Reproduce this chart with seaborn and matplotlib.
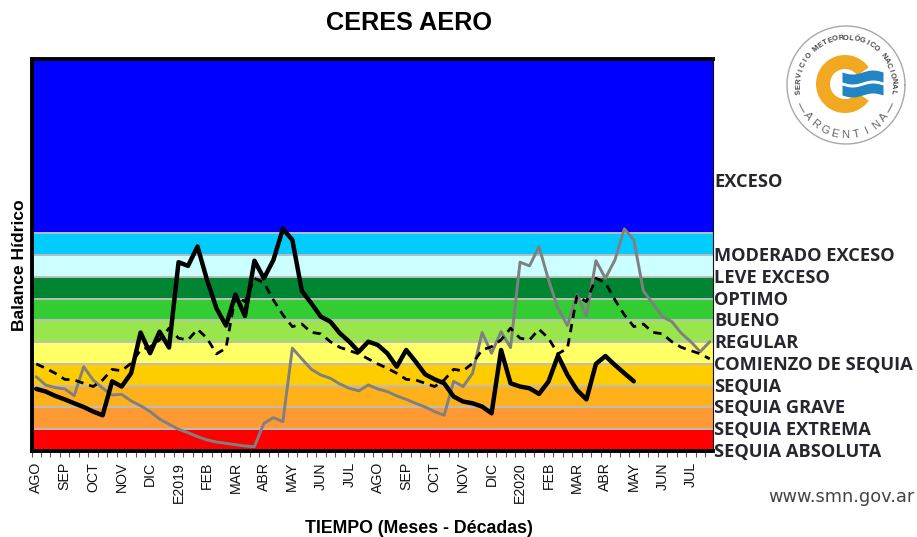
import numpy as np
import pandas as pd
import matplotlib
matplotlib.use("Agg")
import matplotlib.pyplot as plt
import matplotlib.patches as mpatches
import seaborn as sns

sns.set_style("white")
plt.rcParams["font.family"] = ["Liberation Sans", "DejaVu Sans"]
plt.rcParams["text.color"] = "black"

# categorias de los meses (3 decadas por mes)
months = ["AGO", "SEP", "OCT", "NOV", "DIC", "E2019", "FEB", "MAR", "ABR", "MAY", "JUN", "JUL",
          "AGO", "SEP", "OCT", "NOV", "DIC", "E2020", "FEB", "MAR", "ABR", "MAY", "JUN", "JUL"]

# bandas del balance hidrico
band_edges = [0, 1, 2, 3, 4, 5, 6, 7, 8, 9, 10, 18]
band_colors = ["#FF0000", "#FF9933", "#FFB11B", "#FFCC00", "#FFFF66", "#99E64C",
               "#33CC33", "#008533", "#CCFFFF", "#00CCFF", "#0000FF"]
band_names = ["SEQUIA ABSOLUTA", "SEQUIA EXTREMA", "SEQUIA GRAVE", "SEQUIA", "COMIENZO DE SEQUIA",
              "REGULAR", "BUENO", "OPTIMO", "LEVE EXCESO", "MODERADO EXCESO", "EXCESO"]
band_name_y = [0, 1, 2, 3, 4, 5, 6, 7, 8, 9, 12.4]

# series
campania_2017 = [3.41, 3.03, 2.91, 2.85, 2.54, 3.87, 3.26, 2.88, 2.57, 2.60, 2.30, 2.08,
                 1.81, 1.47, 1.23, 1.00, 0.84, 0.66, 0.51, 0.41, 0.35, 0.29, 0.23, 0.20,
                 1.27, 1.53, 1.35, 4.72, 4.23, 3.75, 3.49, 3.34, 3.08, 2.88, 2.76, 3.03]
campania_2018 = [2.85, 2.73, 2.53, 2.37, 2.19, 2.02, 1.81, 1.64, 3.20, 2.96, 3.57, 5.44,
                 4.49, 5.48, 4.75, 8.67, 8.50, 9.39, 7.86, 6.55, 5.76, 7.18, 6.20, 8.74,
                 7.93, 8.77, 10.20, 9.69, 7.35, 6.78, 6.17, 5.94, 5.41, 5.02, 4.56, 5.02]
campania_2019 = [4.87, 4.49, 3.87, 4.64, 4.10, 3.52, 3.29, 3.11, 2.50, 2.27, 2.19, 2.04,
                 1.73, 4.64, 3.11, 2.96, 2.88, 2.62, 3.19, 4.38, 3.49, 2.80, 2.37, 4.00,
                 4.36, 3.95, 3.57, 3.20]
normal = [4.00, 3.80, 3.57, 3.29, 3.26, 3.11, 2.96, 3.26, 3.75, 3.68, 4.03, 4.64,
          4.79, 5.10, 5.64, 5.18, 5.10, 5.59, 5.18, 4.46, 4.72, 7.12, 6.86, 7.93,
          7.73, 6.94, 6.25, 5.71, 5.83, 5.45, 5.38, 5.02, 4.76, 4.61, 4.46, 4.23]

anterior = campania_2017 + campania_2018
actual = campania_2018 + campania_2019
media = normal + normal

W, H = 917, 537
fig = plt.figure(figsize=(W / 100, H / 100), dpi=100)
ax = fig.add_axes([31.5 / W, 1 - 451 / H, (712.6 - 31.5) / W, (451 - 59) / H])

for i in range(len(band_colors)):
    ax.axhspan(band_edges[i], band_edges[i + 1], color=band_colors[i], lw=0, zorder=0)
for e in band_edges[1:-1]:
    ax.axhline(e, color="#BDBDBD", lw=1.4, zorder=1)

sns.lineplot(x=range(len(anterior)), y=anterior, color="#808080", lw=2.1, ax=ax, zorder=3)
sns.lineplot(x=range(len(media)), y=media, color="black", lw=2, ax=ax, zorder=4, linestyle=(0, (3, 2.2)))
sns.lineplot(x=range(len(actual)), y=actual, color="black", lw=3.2, ax=ax, zorder=5)

ax.set_xlim(-0.5, 71.3)
ax.set_ylim(0, 18)
ax.set_yticks([])
ax.set_xticks(np.arange(0, 72, 3))
ax.set_xticklabels(months, rotation=90, fontsize=10.2, color="#111111")
ax.set_xticks(np.arange(-0.5, 71.5, 1), minor=True)
ax.tick_params(axis="x", which="major", length=0, pad=8)
ax.tick_params(axis="x", which="minor", length=4, width=0.8, color="#555555", bottom=True)
for s in ["left", "bottom", "top"]:
    ax.spines[s].set_linewidth(2.8)
    ax.spines[s].set_color("black")
ax.spines["right"].set_linewidth(0.8)
ax.spines["right"].set_color("#111111")

for name, y in zip(band_names, band_name_y):
    ax.annotate(name, xy=(1, y), xycoords=("axes fraction", "data"), xytext=(1, -0.7),
                textcoords="offset points", va="center", ha="left", fontsize=13.15,
                fontweight="bold", color="#26262E", family="Open Sans", annotation_clip=False)

fig.text(408.5 / W, 1 - 23 / H, "CERES AERO", ha="center", va="center", fontsize=18.2, fontweight="bold")
fig.text(20 / W, 1 - 265.5 / H, "Balance Hídrico", rotation=90, ha="center", va="center",
         fontsize=12.6, fontweight="bold")
fig.text(419 / W, 1 - 528.5 / H, "TIEMPO (Meses - Décadas)", ha="center", va="center",
         fontsize=12.8, fontweight="bold")
fig.text(841 / W, 1 - 497 / H, "www.smn.gov.ar", ha="center", va="center", fontsize=12.8,
         color="#444444", family="DejaVu Sans")

# logo del SMN en coordenadas de pixel
logo = fig.add_axes([0, 0, 1, 1], facecolor="none")
logo.set_xlim(0, W)
logo.set_ylim(H, 0)
logo.axis("off")
cx, cy = 846, 85

t = np.radians(np.linspace(0, 360, 300))
logo.plot(cx + 59 * np.cos(t), cy + 59 * np.sin(t), color="#A8A8A8", lw=1)
for a0, a1 in [(22, 33), (147, 158)]:
    t = np.radians(np.linspace(a0, a1, 20))
    logo.plot(cx + 50 * np.cos(t), cy + 50 * np.sin(t), color="#888888", lw=0.9)
logo.add_patch(mpatches.Wedge((cx - 1, cy - 1), 29, 35, 325, width=14, color="#F2A922", lw=0))

xs = np.linspace(cx - 4, cx + 37, 60)
wave = 2 * np.sin((xs - xs[0]) / 41 * 2 * np.pi)
logo.fill_between(xs, cy - 13 + wave, cy - 3 + wave, color="#2184C4", lw=0)
logo.fill_between(xs, cy + wave, cy + 10 + wave, color="#2184C4", lw=0)


def arc_text(text, r, a0, a1, size, color, bottom=False):
    for ch, a in zip(text, np.linspace(a0, a1, len(text))):
        rad = np.radians(a)
        rot = -(a - 90) if bottom else -(a + 90)
        logo.text(cx + r * np.cos(rad), cy + r * np.sin(rad), ch, fontsize=size, color=color,
                  ha="center", va="center", rotation=rot, fontweight="bold" if size < 6 else "normal")


arc_text("SERVICIO METEOROLÓGICO NACIONAL", 47, -188, 8, 5.4, "#444444")
arc_text("ARGENTINA", 50, 141, 40, 8, "#666666", bottom=True)

fig.savefig("out.png", dpi=100)
